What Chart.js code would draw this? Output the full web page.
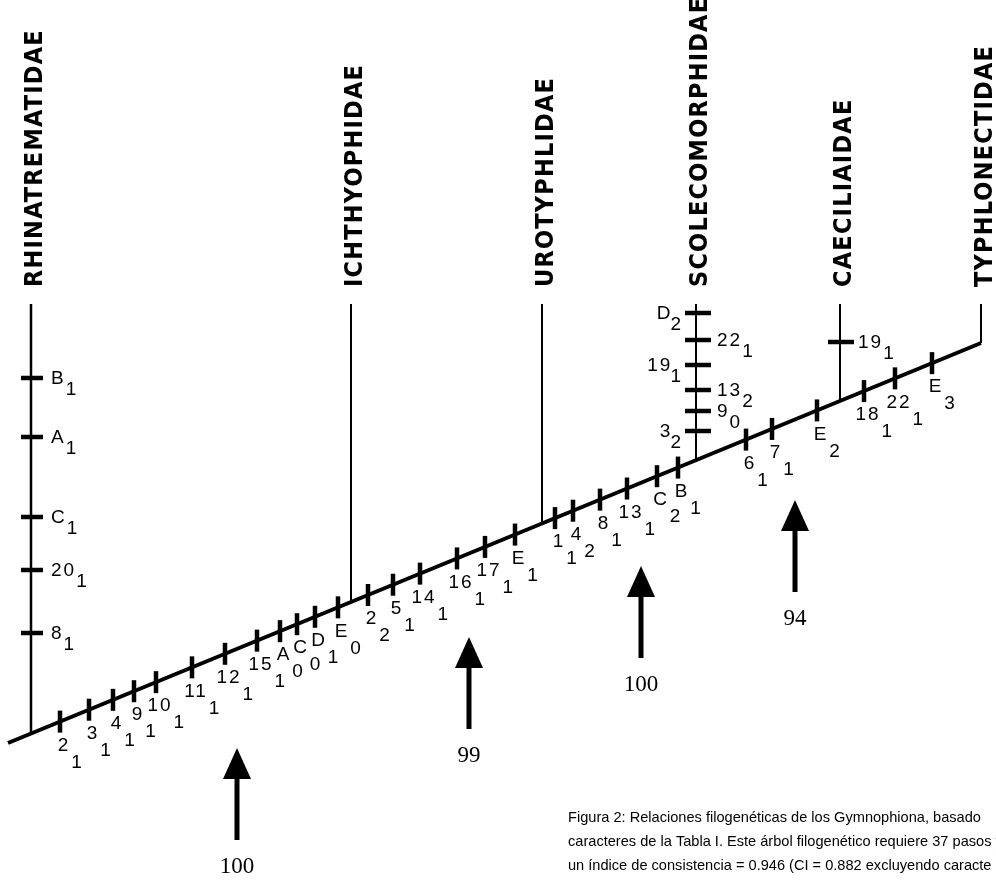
<!DOCTYPE html>
<html>
<head>
<meta charset="utf-8">
<script src="https://cdn.jsdelivr.net/npm/chart.js@4.4.0/dist/chart.umd.min.js"></script>
<style>
  html, body { margin: 0; padding: 0; background: #fff; }
  #wrap { width: 996px; height: 880px; }
</style>
</head>
<body>
<div id="wrap"><canvas id="tree" width="996" height="880"></canvas></div>
<script>
// Taxa and where each branch leaves the stem (x along the stem)
const taxa = ["RHINATREMATIDAE", "ICHTHYOPHIDAE", "UROTYPHLIDAE", "SCOLECOMORPHIDAE", "CAECILIAIDAE", "TYPHLONECTIDAE"];
const taxonX = [31, 351, 542, 696, 840, 981];

// Character changes on the main stem: position, character, state
const stemX = [60, 89, 113, 134, 156, 192, 225, 257, 280, 297, 315, 338, 368, 393, 420, 457, 485, 515, 555, 573, 600, 627, 657, 678, 746, 772, 817, 864, 895, 932];
const stemChar = ["2", "3", "4", "9", "10", "11", "12", "15", "A", "C", "D", "E", "2", "5", "14", "16", "17", "E", "1", "4", "8", "13", "C", "B", "6", "7", "E", "18", "22", "E"];
const stemState = ["1", "1", "1", "1", "1", "1", "1", "1", "0", "0", "1", "0", "2", "1", "1", "1", "1", "1", "1", "2", "1", "1", "2", "1", "1", "1", "2", "1", "1", "3"];

// Changes on the Rhinatrematidae branch (height on the branch)
const rhinY = [378, 437, 517, 570, 633];
const rhinChar = ["B", "A", "C", "20", "8"];
const rhinState = ["1", "1", "1", "1", "1"];

// Changes on the Scolecomorphidae branch
const scolY = [313, 340, 365, 390, 411, 431];
const scolChar = ["D", "22", "19", "13", "9", "3"];
const scolState = ["2", "1", "1", "2", "0", "2"];

// Changes on the Caeciliaidae branch
const caecY = [342];
const caecChar = ["19"];
const caecState = ["1"];

// Bootstrap support arrows
const supportX = [237, 469, 641, 795];
const supportVal = ["100", "99", "100", "94"];

const caption = [
  "Figura 2: Relaciones filogenéticas de los Gymnophiona, basado",
  "caracteres de la Tabla I. Este árbol filogenético requiere 37 pasos y",
  "un índice de consistencia = 0.946 (CI = 0.882 excluyendo caracte"
];

// layout
const stemStart = { x: 8, y: 743 };
const stemEnd = { x: 981, y: 343 };
const branchTop = 304;
const nameBottom = 287;
const arrowTipY = [748, 637, 566, 500];
const scolLabelSide = ["L", "R", "L", "R", "R", "L"];

function stemY(x) {
  return stemStart.y + (stemEnd.y - stemStart.y) * (x - stemStart.x) / (stemEnd.x - stemStart.x);
}

// arrow glyph used as point style
const arrow = document.createElement("canvas");
arrow.width = 30;
arrow.height = 92;
(function () {
  const c = arrow.getContext("2d");
  c.fillStyle = "#000";
  c.beginPath();
  c.moveTo(15, 0);
  c.lineTo(29, 31);
  c.lineTo(1, 31);
  c.closePath();
  c.fill();
  c.fillRect(12.5, 30, 5, 62);
})();

const datasets = [];

// main stem
datasets.push({
  data: [stemStart, stemEnd],
  showLine: true, borderColor: "#000", borderWidth: 4, pointRadius: 0
});

// terminal branches
taxonX.forEach((x, i) => {
  datasets.push({
    data: [{ x: x, y: stemY(x) }, { x: x, y: branchTop }],
    showLine: true, borderColor: "#000", borderWidth: i === 0 ? 2.5 : 2, pointRadius: 0
  });
});

// ticks on the stem
datasets.push({
  data: stemX.map((x) => ({ x: x, y: stemY(x) })),
  showLine: false, pointStyle: "line", rotation: 90, pointRadius: 11,
  pointBorderWidth: 4.5, pointBorderColor: "#000"
});

// ticks on the branches
datasets.push({
  data: rhinY.map((y) => ({ x: taxonX[0] + 1, y: y })),
  showLine: false, pointStyle: "line", pointRadius: 11,
  pointBorderWidth: 4.5, pointBorderColor: "#000"
});
datasets.push({
  data: scolY.map((y) => ({ x: taxonX[3] + 2, y: y })),
  showLine: false, pointStyle: "line", pointRadius: 13,
  pointBorderWidth: 4.5, pointBorderColor: "#000"
});
datasets.push({
  data: caecY.map((y) => ({ x: taxonX[4] + 1, y: y })),
  showLine: false, pointStyle: "line", pointRadius: 13,
  pointBorderWidth: 4.5, pointBorderColor: "#000"
});

// support arrows
datasets.push({
  data: supportX.map((x, i) => ({ x: x, y: arrowTipY[i] + arrow.height / 2 })),
  showLine: false, pointStyle: arrow, pointRadius: 10
});

const labelPlugin = {
  id: "cladeLabels",
  afterDatasetsDraw(chart) {
    const ctx = chart.ctx;
    const px = (v) => chart.scales.x.getPixelForValue(v);
    const py = (v) => chart.scales.y.getPixelForValue(v);
    ctx.save();
    ctx.fillStyle = "#000";

    // taxon names, reading upwards
    ctx.font = 'bold 25px "DejaVu Sans Condensed", "DejaVu Sans", sans-serif';
    ctx.letterSpacing = "1.2px";
    ctx.textAlign = "left";
    ctx.textBaseline = "middle";
    taxa.forEach((name, i) => {
      ctx.save();
      ctx.translate(px(taxonX[i]) + 4, py(nameBottom));
      ctx.rotate(-Math.PI / 2);
      ctx.fillText(name, 0, 0);
      ctx.restore();
    });

    // character / state labels
    ctx.font = '19px "Liberation Sans", Arial, sans-serif';
    ctx.letterSpacing = "2px";
    ctx.textAlign = "left";

    // below a stem tick
    stemX.forEach((x, i) => {
      const ax = px(x), ay = py(stemY(x));
      const w = ctx.measureText(stemChar[i]).width;
      const left = ax + 4 - w / 2;
      ctx.fillText(stemChar[i], left, ay + 24);
      ctx.fillText(stemState[i], left + w + 1, ay + 41);
    });

    function rightLabel(ch, st, x, y) {
      const w = ctx.measureText(ch).width;
      ctx.fillText(ch, x, y + 1);
      ctx.fillText(st, x + w, y + 12);
    }
    function leftLabel(ch, st, x, y) {
      const w = ctx.measureText(ch).width;
      const sw = ctx.measureText(st).width;
      ctx.fillText(ch, x - sw - w + 2, y + 1);
      ctx.fillText(st, x - sw, y + 12);
    }

    rhinY.forEach((y, i) => rightLabel(rhinChar[i], rhinState[i], px(taxonX[0] + 20), py(y)));
    scolY.forEach((y, i) => {
      if (scolLabelSide[i] === "R") rightLabel(scolChar[i], scolState[i], px(taxonX[3] + 21), py(y));
      else leftLabel(scolChar[i], scolState[i], px(taxonX[3] - 13), py(y));
    });
    caecY.forEach((y, i) => rightLabel(caecChar[i], caecState[i], px(taxonX[4] + 18), py(y)));

    // bootstrap values
    ctx.font = '23px "Liberation Serif", "Times New Roman", serif';
    ctx.letterSpacing = "0px";
    ctx.textAlign = "center";
    supportX.forEach((x, i) => {
      ctx.fillText(supportVal[i], px(x), py(arrowTipY[i] + 119));
    });

    // caption
    ctx.font = '14.6px "Liberation Sans", Arial, sans-serif';
    ctx.textAlign = "left";
    caption.forEach((line, i) => {
      ctx.fillText(line, 568, 818 + i * 24);
    });
    ctx.restore();
  }
};

new Chart(document.getElementById("tree"), {
  type: "scatter",
  data: { datasets: datasets },
  options: {
    responsive: false,
    animation: false,
    events: [],
    layout: { padding: 0, autoPadding: false },
    plugins: { legend: { display: false }, tooltip: { enabled: false } },
    scales: {
      x: { type: "linear", min: 0, max: 996, display: false },
      y: { type: "linear", min: 0, max: 880, reverse: true, display: false }
    }
  },
  plugins: [labelPlugin]
});
</script>
</body>
</html>
